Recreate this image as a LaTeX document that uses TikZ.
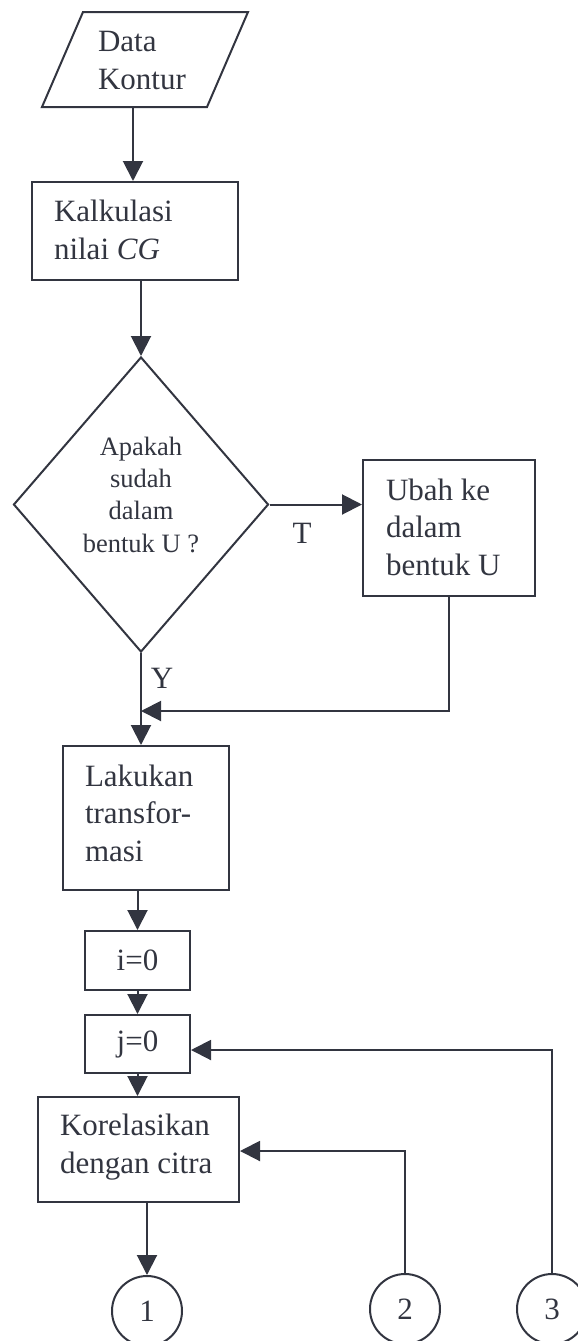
\documentclass[tikz,border=0pt]{standalone}
\usepackage{fontspec}
\setmainfont{Liberation Serif}
\usetikzlibrary{shapes.geometric,arrows.meta}
\definecolor{ink}{RGB}{50,53,64}
\tikzset{
  boxshape/.style={draw=ink, rectangle, inner sep=0pt},
  txt/.style={text=ink, inner sep=0pt, anchor=base west, align=left, font=\fontsize{31}{37.5}\selectfont},
  dtxt/.style={text=ink, inner sep=0pt, anchor=base, align=center, font=\fontsize{26.5}{32.3}\selectfont},
  lbl/.style={text=ink, inner sep=0pt, font=\fontsize{31}{37}\selectfont},
  conn/.style={draw=ink, circle, inner sep=0pt, minimum size=70pt},
  arr/.style={draw=ink, -{Triangle[length=20pt,width=20pt]}},
  ln/.style={draw=ink}
}
\begin{document}
\begin{tikzpicture}[x=1pt,y=-1pt,line width=2pt]
\useasboundingbox (0,0) rectangle (578,1341);
% input parallelogram
\coordinate (dTL) at (83,12);
\coordinate (dTR) at (248,12);
\coordinate (dBR) at (207,107);
\coordinate (dBL) at (42,107);
\draw[ink] (dTL) -- (dTR) -- (dBR) -- (dBL) -- cycle;
\node[txt] (datat) at (97,89) {Data\\Kontur};
\coordinate (dataB) at (133,107);
% boxes
\node[boxshape, minimum width=206pt, minimum height=98pt] (kalk) at (135,231) {};
\node[txt] (kalkt) at (53,259) {Kalkulasi\\nilai \textit{CG}};
\node[draw=ink, diamond, inner sep=0pt, minimum width=255pt, minimum height=295pt, aspect=0.864] (dec) at (141,504.5) {};
\node[dtxt] (dect) at (141,552) {Apakah\\sudah\\dalam\\bentuk U ?};
\node[boxshape, minimum width=172pt, minimum height=136pt] (ubah) at (449,528) {};
\node[txt] (ubaht) at (385,575) {Ubah ke\\dalam\\bentuk U};
\node[lbl] (tlab) at (302,533) {T};
\node[lbl] (ylab) at (162,678) {Y};
\coordinate (merge) at (141,711);
\node[boxshape, minimum width=166pt, minimum height=144pt] (lak) at (146,818) {};
\node[txt] (lakt) at (84,861) {Lakukan\\transfor-\\masi};
\node[boxshape, minimum width=105pt, minimum height=59pt, text=ink, font=\fontsize{31}{37}\selectfont] (i0) at (137.5,960.5) {i=0};
\node[boxshape, minimum width=105pt, minimum height=58pt, text=ink, font=\fontsize{31}{37}\selectfont] (j0) at (137.5,1044) {j=0};
\node[boxshape, minimum width=201pt, minimum height=105pt] (kor) at (138.5,1149.5) {};
\node[txt] (kort) at (59,1173) {Korelasikan\\dengan citra};
% connectors (off-page)
\node[conn, text=ink, font=\fontsize{31}{37}\selectfont] (c1) at (147,1311) {1};
\node[conn, text=ink, font=\fontsize{31}{37}\selectfont] (c2) at (405,1309) {2};
\node[conn, text=ink, font=\fontsize{31}{37}\selectfont] (c3) at (552,1309) {3};
% arrows
\draw[arr] (dataB) -- (dataB |- kalk.north);
\draw[arr] (kalk.south -| dec.north) -- (dec.north);
\draw[arr] (dec.east) -- (dec.east -| ubah.west);
\draw[arr] (dec.south) -- (dec.south |- lak.north);
\draw[arr] (ubah.south) |- (merge);
\draw[arr] (lak.south -| i0.north) -- (i0.north);
\draw[arr] (i0.south) -- (j0.north);
\draw[arr] (j0.south) -- (j0.south |- kor.north);
\draw[arr] (kor.south -| c1.north) -- (c1.north);
\draw[arr] (c2.north) |- ([yshift=-1.5pt]kor.east);
\draw[arr] (c3.north) |- ([yshift=-6pt]j0.east);
\end{tikzpicture}
\end{document}
